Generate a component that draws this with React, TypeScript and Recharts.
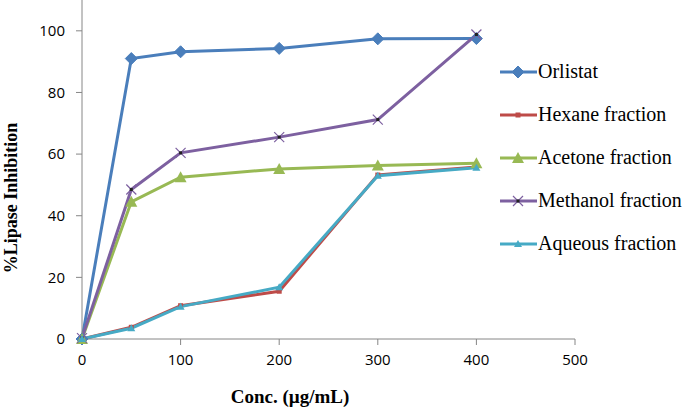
import React from 'react';
import { LineChart, Line, XAxis, YAxis } from 'recharts';

const concentrations = [0, 50, 100, 200, 300, 400];
const orlistat = [0, 91, 93.2, 94.3, 97.4, 97.5];
const hexane = [0, 3.8, 10.8, 15.5, 53.2, 55.8];
const acetone = [0, 44.5, 52.5, 55.2, 56.3, 57];
const methanol = [0.3, 48.5, 60.4, 65.5, 71.2, 98.8];
const aqueous = [0, 3.5, 10.5, 16.8, 53.0, 55.6];
const xTicks = [0, 100, 200, 300, 400, 500];
const yTicks = [0, 20, 40, 60, 80, 100];

const data = concentrations.map((c, i) => ({
  conc: c,
  orlistat: orlistat[i],
  hexane: hexane[i],
  acetone: acetone[i],
  methanol: methanol[i],
  aqueous: aqueous[i],
}));

const COLORS = {
  orlistat: '#4a7ebb',
  hexane: '#be4b48',
  acetone: '#98b954',
  methanol: '#7d60a0',
  aqueous: '#46aac5',
};

type Shape = 'diamond' | 'square' | 'triangle' | 'x' | 'smalltri';

function marker(shape: Shape, cx: number, cy: number, color: string, key?: any) {
  switch (shape) {
    case 'diamond':
      return <path key={key} d={`M${cx},${cy - 6}L${cx + 6},${cy}L${cx},${cy + 6}L${cx - 6},${cy}Z`} fill={color} stroke={color} strokeWidth={1} />;
    case 'square':
      return <rect key={key} x={cx - 2.5} y={cy - 2.5} width={5} height={5} fill={color} />;
    case 'triangle':
      return <path key={key} d={`M${cx},${cy - 6}L${cx + 6},${cy + 5}L${cx - 6},${cy + 5}Z`} fill={color} />;
    case 'smalltri':
      return <path key={key} d={`M${cx},${cy - 4}L${cx + 4},${cy + 3}L${cx - 4},${cy + 3}Z`} fill={color} />;
    case 'x':
      return (
        <g key={key}>
          <path d={`M${cx - 5},${cy - 5}L${cx + 5},${cy + 5}M${cx - 5},${cy + 5}L${cx + 5},${cy - 5}`} stroke={color} strokeWidth={1.2} />
          <rect x={cx - 1.5} y={cy - 1.5} width={3} height={3} fill="#222" />
        </g>
      );
  }
  return null;
}

const series: { key: keyof typeof COLORS; name: string; shape: Shape }[] = [
  { key: 'orlistat', name: 'Orlistat', shape: 'diamond' },
  { key: 'hexane', name: 'Hexane fraction', shape: 'square' },
  { key: 'acetone', name: 'Acetone fraction', shape: 'triangle' },
  { key: 'methanol', name: 'Methanol fraction', shape: 'x' },
  { key: 'aqueous', name: 'Aqueous fraction', shape: 'smalltri' },
];

const LegendBox = () => (
  <div style={{ position: 'absolute', left: 499, top: 50, width: 186, fontFamily: '"Liberation Serif", "Times New Roman", serif', fontSize: 20, color: '#000', whiteSpace: 'nowrap' }}>
    {series.map((s) => (
      <div key={s.key} style={{ display: 'flex', alignItems: 'center', height: 43 }}>
        <svg width={39} height={14} style={{ marginRight: 0 }}>
          <line x1={1} y1={7} x2={38} y2={7} stroke={COLORS[s.key]} strokeWidth={3} />
          {marker(s.shape, 19, 7, COLORS[s.key])}
        </svg>
        <span>{s.name}</span>
      </div>
    ))}
  </div>
);

export default function App() {
  return (
    <div style={{ position: 'absolute', left: 0, top: 0, width: 685, height: 409, background: '#fff' }}>
      <LineChart width={685} height={409} data={data} margin={{ top: 0, right: 110, bottom: 40, left: 22 }}>
        <XAxis
          dataKey="conc"
          type="number"
          domain={[0, 500]}
          ticks={xTicks}
          stroke="#868686"
          tickSize={6}
          tickMargin={9}
          height={30}
          tick={{ fill: '#000', fontSize: 15, fontFamily: '"Open Sans", sans-serif' }}
          label={{
            content: (props: any) => {
              const vb = props.viewBox;
              return (
                <text x={vb.x + 208} y={vb.y + 64} textAnchor="middle" fontFamily='"Liberation Serif", serif' fontWeight="bold" fontSize={19} fill="#000">
                  Conc. (µg/mL)
                </text>
              );
            },
          }}
        />
        <YAxis
          type="number"
          domain={[0, 110]}
          ticks={yTicks}
          stroke="#868686"
          width={60}
          tickSize={6}
          tickMargin={11}
          tick={{ fill: '#000', fontSize: 15, fontFamily: '"Open Sans", sans-serif' }}
          label={{
            content: () => (
              <text x={0} y={0} transform="translate(17,198) rotate(-90)" textAnchor="middle" fontFamily='"Liberation Serif", serif' fontWeight="bold" fontSize={18} fill="#000">
                %Lipase Inhibition
              </text>
            ),
          }}
        />
        {series.map((s) => (
          <Line
            key={s.key}
            dataKey={s.key}
            name={s.name}
            stroke={COLORS[s.key]}
            strokeWidth={3}
            isAnimationActive={false}
            type="linear"
            dot={(p: any) => marker(s.shape, p.cx, p.cy, COLORS[s.key], `${s.key}-${p.index}`)}
            activeDot={false}
          />
        ))}
      </LineChart>
      <LegendBox />
    </div>
  );
}
